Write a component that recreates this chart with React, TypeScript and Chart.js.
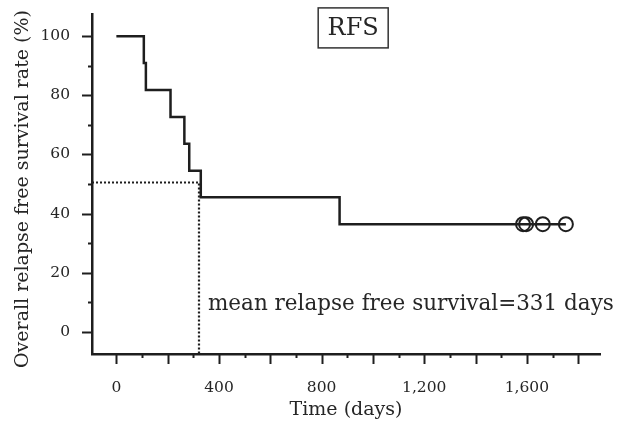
import React, { useEffect, useRef } from 'react';
import { Chart, registerables } from 'chart.js';

Chart.register(...registerables);

// Kaplan–Meier relapse-free survival (step points)
const TIMES = [0, 107, 115, 211, 265, 284, 329, 870, 1752];
const SURVIVAL = [100, 90.9, 81.8, 72.7, 63.6, 54.5, 45.5, 36.4, 36.4];
// censored observations
const CENSOR_TIMES = [1585, 1597, 1662, 1752];
const CENSOR_SURVIVAL = [36.4, 36.4, 36.4, 36.4];
// median guide
const MEDIAN_TIME = 322;
const MEDIAN_SURVIVAL = 50.5;

const X_MIN = -95;
const X_MAX = 1885;
const Y_MIN = -7.5;
const Y_MAX = 107.5;
const X_TICKS = [0, 100, 200, 300, 400, 500, 600, 700, 800, 900, 1000, 1100, 1200, 1300, 1400, 1500, 1600, 1700, 1800];
const X_LABELS = [0, 400, 800, 1200, 1600];
const Y_TICKS = [0, 10, 20, 30, 40, 50, 60, 70, 80, 90, 100];
const Y_LABELS = [0, 20, 40, 60, 80, 100];

const TITLE = 'RFS';
const X_TITLE = 'Time (days)';
const Y_TITLE = 'Overall relapse free survival rate (%)';
const NOTE = 'mean relapse free survival=331 days';

const INK = '#1e1e1e';
const TEXT = '#262626';
const FONT = '"DejaVu Serif", serif';

export default function App() {
  const ref = useRef<HTMLCanvasElement | null>(null);

  useEffect(() => {
    const canvas = ref.current;
    if (!canvas) return;

    const decor = {
      id: 'decor',
      afterDraw(chart: any) {
        const { ctx, chartArea, scales } = chart;
        const xs = scales.x;
        const ys = scales.y;
        ctx.save();
        ctx.strokeStyle = INK;
        ctx.lineWidth = 2;
        // x ticks
        X_TICKS.forEach((t) => {
          const px = Math.round(xs.getPixelForValue(t)) + 0.5;
          const len = t % 200 === 0 ? 10 : 4;
          ctx.beginPath();
          ctx.moveTo(px, chartArea.bottom);
          ctx.lineTo(px, chartArea.bottom + len);
          ctx.stroke();
        });
        // y ticks
        Y_TICKS.forEach((v) => {
          const py = Math.round(ys.getPixelForValue(v)) + 0.5;
          const len = v % 20 === 0 ? 10 : 4;
          ctx.beginPath();
          ctx.moveTo(chartArea.left, py);
          ctx.lineTo(chartArea.left - len, py);
          ctx.stroke();
        });
        // axis titles
        ctx.fillStyle = TEXT;
        ctx.textAlign = 'center';
        ctx.textBaseline = 'middle';
        ctx.font = `19px ${FONT}`;
        ctx.fillText(X_TITLE, (chartArea.left + chartArea.right) / 2, 410);
        ctx.save();
        ctx.translate(23, 189);
        ctx.rotate(-Math.PI / 2);
        ctx.fillText(Y_TITLE, 0, 0);
        ctx.restore();
        // RFS box
        const cx = xs.getPixelForValue(923);
        const cy = ys.getPixelForValue(102.8);
        ctx.lineWidth = 1.5;
        ctx.strokeStyle = '#333';
        ctx.strokeRect(cx - 35, cy - 20, 70, 40);
        ctx.font = `24px ${FONT}`;
        ctx.fillText(TITLE, cx, cy + 1);
        // note
        ctx.textAlign = 'left';
        ctx.font = `21.5px ${FONT}`;
        ctx.fillText(NOTE, xs.getPixelForValue(357), ys.getPixelForValue(9.3));
        ctx.restore();
      },
    };

    const chart = new Chart(canvas, {
      type: 'scatter',
      data: {
        datasets: [
          {
            data: TIMES.map((t, i) => ({ x: t, y: SURVIVAL[i] })),
            showLine: true,
            stepped: 'before',
            borderColor: INK,
            borderWidth: 2.5,
            pointRadius: 0,
            fill: false,
          },
          {
            data: [
              { x: X_MIN, y: MEDIAN_SURVIVAL },
              { x: MEDIAN_TIME, y: MEDIAN_SURVIVAL },
              { x: MEDIAN_TIME, y: Y_MIN },
            ],
            showLine: true,
            borderColor: INK,
            borderWidth: 2.2,
            borderDash: [2, 2],
            pointRadius: 0,
            fill: false,
          },
          {
            data: CENSOR_TIMES.map((t, i) => ({ x: t, y: CENSOR_SURVIVAL[i] })),
            showLine: false,
            pointStyle: 'circle',
            pointRadius: 7,
            pointBorderWidth: 2,
            pointBorderColor: INK,
            pointBackgroundColor: 'rgba(0,0,0,0)',
          },
        ],
      },
      options: {
        animation: false,
        responsive: false,
        maintainAspectRatio: false,
        layout: { padding: { top: 14, right: 33, left: 0, bottom: 0 } },
        plugins: { legend: { display: false }, tooltip: { enabled: false }, title: { display: false } },
        scales: {
          x: {
            type: 'linear',
            min: X_MIN,
            max: X_MAX,
            afterBuildTicks: (s: any) => {
              s.ticks = X_TICKS.map((v) => ({ value: v }));
            },
            afterFit: (s: any) => {
              s.height = 71;
              s.paddingLeft = 0;
              s.paddingRight = 0;
            },
            grid: { display: false, drawTicks: false },
            border: { display: true, color: INK, width: 2.5 },
            ticks: {
              autoSkip: false,
              maxRotation: 0,
              padding: 25,
              color: TEXT,
              font: { family: FONT, size: 15.5 },
              callback: (v: any) => (X_LABELS.includes(v) ? Number(v).toLocaleString('en-US') : ''),
            },
          },
          y: {
            type: 'linear',
            min: Y_MIN,
            max: Y_MAX,
            afterBuildTicks: (s: any) => {
              s.ticks = Y_TICKS.map((v) => ({ value: v }));
            },
            afterFit: (s: any) => {
              s.width = 92;
              s.paddingTop = 0;
              s.paddingBottom = 0;
            },
            grid: { display: false, drawTicks: false },
            border: { display: true, color: INK, width: 2.5 },
            ticks: {
              autoSkip: false,
              padding: 22,
              color: TEXT,
              font: { family: FONT, size: 15.5 },
              callback: (v: any) => (Y_LABELS.includes(v) ? String(v) : ''),
            },
          },
        },
      },
      plugins: [decor],
    });

    return () => chart.destroy();
  }, []);

  return (
    <div style={{ position: 'fixed', left: 0, top: 0, width: 633, height: 425, background: '#fff' }}>
      <canvas ref={ref} width={633} height={425} style={{ width: 633, height: 425, display: 'block' }} />
    </div>
  );
}
